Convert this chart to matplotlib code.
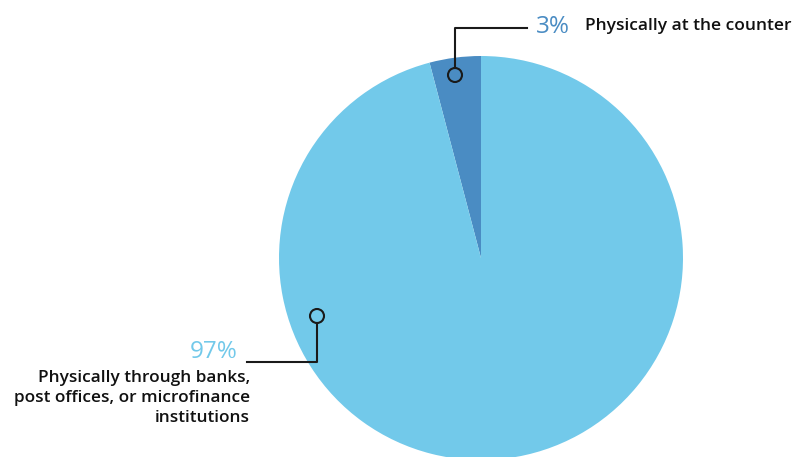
import matplotlib.pyplot as plt
from matplotlib.patches import Circle

# slice sizes; printed labels as shown
sizes = [4.1, 95.9]
pct_labels = ["3%", "97%"]
names = ["Physically at the counter",
         "Physically through banks,\npost offices, or microfinance\ninstitutions"]
colors = ["#4A8CC3", "#72C9EA"]

W, H = 792, 457
fig = plt.figure(figsize=(W / 100, H / 100), dpi=100)
ax = fig.add_axes([0, 0, 1, 1])

cx, cy, r = 481, H - 258, 202
ax.pie(sizes, colors=colors, startangle=90, counterclock=True,
       center=(cx, cy), radius=r, frame=True,
       wedgeprops=dict(linewidth=0))
ax.set_xlim(0, W)
ax.set_ylim(0, H)
ax.axis("off")

font = "Open Sans"
lc = "#1a1a1a"

# top label (small slice)
ax.add_patch(Circle((455, H - 75), 7, fill=False, ec=lc, lw=1.5, zorder=5))
ax.plot([455, 455, 527], [H - 68, H - 28, H - 28], color=lc, lw=1.5, zorder=5)
ax.text(536, H - 27, pct_labels[0], color=colors[0], fontsize=17.5,
        family=font, va="center", ha="left")
ax.text(585, H - 26, names[0], color="#111111", fontsize=12.5,
        family=font, weight="semibold", va="center", ha="left")

# bottom label (large slice)
ax.add_patch(Circle((317, H - 316), 7, fill=False, ec=lc, lw=1.5, zorder=5))
ax.plot([317, 317, 247], [H - 323, H - 362, H - 362], color=lc, lw=1.5, zorder=5)
ax.text(238, H - 352, pct_labels[1], color=colors[1], fontsize=17.5,
        family=font, va="center", ha="right")
ax.text(250, H - 398, names[1], color="#111111", fontsize=12.4,
        family=font, weight="semibold", va="center", ha="right",
        linespacing=1.32)

fig.savefig("out.png", dpi=100)
